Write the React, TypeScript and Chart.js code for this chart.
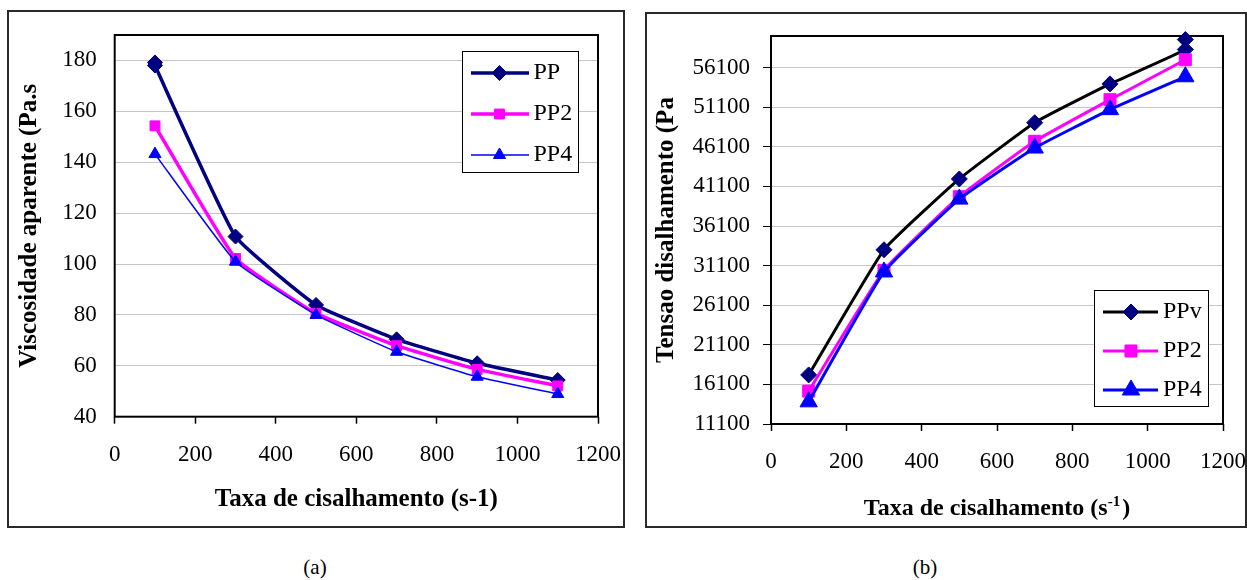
import React, { useEffect, useRef } from "react";
import { Chart, registerables } from "chart.js";

Chart.register(...registerables);

const FONT = "'Liberation Serif', 'Times New Roman', serif";

// ---------- shared axis ticks ----------
const xTickValues = [0, 200, 400, 600, 800, 1000, 1200];

// ---------- chart (a): viscosidade aparente ----------
const yTickValuesA = [40, 60, 80, 100, 120, 140, 160, 180];
const labelsA = ["PP", "PP2", "PP4"];
const shearRatePP = [100, 100, 300, 500, 700, 900, 1100];
const viscosityPP = [179.2, 178, 110.8, 83.9, 70.4, 61, 54.4];
const shearRateA = [100, 300, 500, 700, 900, 1100];
const viscosityPP2 = [154.3, 102.2, 80.6, 67.9, 58.6, 52.1];
const viscosityPP4 = [143.2, 100.9, 80, 65.5, 55.7, 48.9];

// ---------- chart (b): tensao de cisalhamento ----------
const yTickValuesB = [11100, 16100, 21100, 26100, 31100, 36100, 41100, 46100, 51100, 56100];
const labelsB = ["PPv", "PP2", "PP4"];
const shearRatePPv = [100, 300, 500, 700, 900, 1100, 1100];
const stressPPv = [17300, 33100, 42050, 49150, 54050, 58400, 59650];
const shearRateB = [100, 300, 500, 700, 900, 1100];
const stressPP2 = [15250, 30500, 39800, 46800, 52050, 57100];
const stressPP4 = [13900, 30300, 39500, 45950, 50800, 54950];

const toPoints = (xs: number[], ys: number[]) => xs.map((x, i) => ({ x, y: ys[i] }));

function drawMarker(ctx: CanvasRenderingContext2D, style: string, x: number, y: number, r: number, color: string) {
  ctx.save();
  ctx.fillStyle = color;
  ctx.strokeStyle = color;
  ctx.lineWidth = 1;
  ctx.beginPath();
  if (style === "rectRot") {
    ctx.moveTo(x - r, y);
    ctx.lineTo(x, y - r);
    ctx.lineTo(x + r, y);
    ctx.lineTo(x, y + r);
    ctx.closePath();
  } else if (style === "rect") {
    const h = r * Math.SQRT1_2;
    ctx.rect(x - h, y - h, 2 * h, 2 * h);
  } else {
    ctx.moveTo(x, y - r);
    ctx.lineTo(x + Math.sin((2 * Math.PI) / 3) * r, y + 0.5 * r);
    ctx.lineTo(x - Math.sin((2 * Math.PI) / 3) * r, y + 0.5 * r);
    ctx.closePath();
  }
  ctx.fill();
  ctx.stroke();
  ctx.restore();
}

const plotFrame = {
  id: "plotFrame",
  beforeDatasetsDraw(chart: any) {
    const { ctx, chartArea } = chart;
    ctx.save();
    ctx.strokeStyle = "#000";
    ctx.lineWidth = 2;
    ctx.strokeRect(chartArea.left, chartArea.top, chartArea.right - chartArea.left, chartArea.bottom - chartArea.top);
    ctx.restore();
  },
};

const boxLegend = {
  id: "boxLegend",
  afterDatasetsDraw(chart: any, _args: any, opts: any) {
    if (!opts || !opts.box) return;
    const ctx = chart.ctx as CanvasRenderingContext2D;
    const [x1, y1, x2, y2] = opts.box;
    ctx.save();
    ctx.fillStyle = "#fff";
    ctx.fillRect(x1, y1, x2 - x1, y2 - y1);
    ctx.strokeStyle = "#000";
    ctx.lineWidth = 1;
    ctx.strokeRect(x1 + 0.5, y1 + 0.5, x2 - x1 - 1, y2 - y1 - 1);
    chart.data.datasets.forEach((ds: any, i: number) => {
      const y = opts.rows[i];
      ctx.strokeStyle = ds.borderColor;
      ctx.lineWidth = ds.borderWidth;
      ctx.beginPath();
      ctx.moveTo(opts.lineX[0], y);
      ctx.lineTo(opts.lineX[1], y);
      ctx.stroke();
      drawMarker(ctx, ds.pointStyle, opts.markerX, y, ds.pointRadius, ds.pointBackgroundColor);
      ctx.fillStyle = "#000";
      ctx.font = `${opts.fontSize}px ${FONT}`;
      ctx.textBaseline = "middle";
      ctx.textAlign = "left";
      ctx.fillText(ds.label, opts.textX, y);
    });
    ctx.restore();
  },
};

const supTitle = {
  id: "supTitle",
  afterDraw(chart: any, _args: any, opts: any) {
    if (!opts || !opts.main) return;
    const { ctx, chartArea } = chart;
    ctx.save();
    ctx.fillStyle = "#000";
    ctx.textBaseline = "alphabetic";
    ctx.textAlign = "left";
    ctx.font = `bold ${opts.size}px ${FONT}`;
    const w1 = ctx.measureText(opts.main).width;
    const w3 = ctx.measureText(opts.tail).width;
    ctx.font = `bold ${opts.supSize}px ${FONT}`;
    const w2 = ctx.measureText(opts.sup).width + 2;
    const total = w1 + w2 + w3;
    const cx = (chartArea.left + chartArea.right) / 2;
    const y = chartArea.bottom + opts.offset;
    let x = cx - total / 2;
    ctx.font = `bold ${opts.size}px ${FONT}`;
    ctx.fillText(opts.main, x, y);
    x += w1;
    ctx.font = `bold ${opts.supSize}px ${FONT}`;
    ctx.fillText(opts.sup, x, y - opts.raise);
    x += w2;
    ctx.font = `bold ${opts.size}px ${FONT}`;
    ctx.fillText(opts.tail, x, y);
    ctx.restore();
  },
};

function makeDataset(label: string, xs: number[], ys: number[], lineColor: string, markerColor: string, width: number, style: string, radius: number, order: number) {
  return {
    label,
    data: toPoints(xs, ys),
    borderColor: lineColor,
    backgroundColor: markerColor,
    borderWidth: width,
    pointStyle: style,
    pointRadius: radius,
    pointBackgroundColor: markerColor,
    pointBorderColor: markerColor,
    pointBorderWidth: 1,
    tension: 0.12,
    fill: false,
    clip: false,
    order,
  };
}

function makeConfig(p: any) {
  return {
    type: "line",
    data: { datasets: p.datasets },
    plugins: [plotFrame, boxLegend, supTitle],
    options: {
      responsive: false,
      maintainAspectRatio: false,
      animation: false,
      devicePixelRatio: 1,
      events: [],
      layout: { padding: { top: p.padTop, right: p.padRight, left: 0, bottom: 0 } },
      plugins: {
        legend: { display: false },
        tooltip: { enabled: false },
        boxLegend: p.legend,
        supTitle: p.supTitle || {},
      },
      scales: {
        x: {
          type: "linear",
          min: 0,
          max: 1200,
          afterBuildTicks: (s: any) => {
            s.ticks = xTickValues.map((v) => ({ value: v }));
          },
          afterFit: (s: any) => {
            s.height = p.xAxisHeight;
          },
          grid: { drawOnChartArea: false, drawTicks: true, tickLength: 7, tickColor: "#000", tickWidth: 1.5 },
          border: { display: false },
          ticks: {
            font: { family: FONT, size: 23 },
            color: "#000",
            padding: 17,
            autoSkip: false,
            maxRotation: 0,
            callback: (v: any) => String(v),
          },
          title: {
            display: !!p.xTitle,
            text: p.xTitle || "",
            color: "#000",
            font: { family: FONT, size: 25, weight: "bold" },
            padding: { top: 0, bottom: p.xTitlePad },
          },
        },
        y: {
          type: "linear",
          min: p.yMin,
          max: p.yMax,
          afterBuildTicks: (s: any) => {
            s.ticks = p.yTicks.map((v: number) => ({ value: v }));
          },
          afterFit: (s: any) => {
            s.width = p.yAxisWidth;
          },
          grid: {
            color: "#c6c6c6",
            lineWidth: 1,
            drawTicks: p.yTickLen > 0,
            tickLength: p.yTickLen,
            tickColor: "#000",
          },
          border: { display: false },
          ticks: {
            font: { family: FONT, size: 23 },
            color: "#000",
            padding: p.yPad,
            autoSkip: false,
            callback: (v: any) => String(v),
          },
          title: {
            display: true,
            text: p.yTitle,
            color: "#000",
            font: { family: FONT, size: 25, weight: "bold" },
            padding: { top: p.yTitlePad, bottom: 0 },
          },
        },
      },
    },
  };
}

function ChartCanvas({ config, left, width }: { config: any; left: number; width: number }) {
  const ref = useRef<HTMLCanvasElement | null>(null);
  useEffect(() => {
    if (!ref.current) return;
    const chart = new Chart(ref.current, config);
    return () => chart.destroy();
  }, [config]);
  return (
    <canvas
      ref={ref}
      width={width}
      height={540}
      style={{ position: "absolute", left, top: 0, width, height: 540 }}
    />
  );
}

const configA = makeConfig({
  datasets: [
    makeDataset(labelsA[0], shearRatePP, viscosityPP, "#000080", "#000080", 3.5, "rectRot", 7.5, 3),
    makeDataset(labelsA[1], shearRateA, viscosityPP2, "#FF00FF", "#FF00FF", 3.5, "rect", 7, 2),
    makeDataset(labelsA[2], shearRateA, viscosityPP4, "#0000FF", "#0000FF", 1.5, "triangle", 7, 1),
  ],
  padTop: 35,
  padRight: 40,
  xAxisHeight: 123.3,
  yAxisWidth: 114.7,
  yMin: 40,
  yMax: 190,
  yTicks: yTickValuesA,
  yTickLen: 0,
  yPad: 18,
  yTitle: "Viscosidade aparente (Pa.s",
  yTitlePad: 15,
  xTitle: "Taxa de cisalhamento (s-1)",
  xTitlePad: 25.5,
  legend: {
    box: [462, 51, 579, 173],
    rows: [73, 114, 155],
    lineX: [471, 529],
    markerX: 499.5,
    textX: 533.5,
    fontSize: 24,
  },
});

const configB = makeConfig({
  datasets: [
    makeDataset(labelsB[0], shearRatePPv, stressPPv, "#000000", "#000080", 3, "rectRot", 8, 3),
    makeDataset(labelsB[1], shearRateB, stressPP2, "#FF00FF", "#FF00FF", 3, "rect", 8.5, 2),
    makeDataset(labelsB[2], shearRateB, stressPP4, "#0000FF", "#0000FF", 3, "triangle", 10, 1),
  ],
  padTop: 36,
  padRight: 40,
  xAxisHeight: 116,
  yAxisWidth: 141,
  yMin: 11100,
  yMax: 60100,
  yTicks: yTickValuesB,
  yTickLen: 8,
  yPad: 13,
  yTitle: "Tensao disalhamento (Pa",
  yTitlePad: 22,
  xTitle: "",
  xTitlePad: 0,
  legend: {
    box: [464, 290, 579, 407],
    rows: [312, 351, 390],
    lineX: [473, 528],
    markerX: 501,
    textX: 533,
    fontSize: 24,
  },
  supTitle: {
    main: "Taxa de cisalhamento (s",
    sup: "-1",
    tail: ")",
    size: 24,
    supSize: 15,
    raise: 9,
    offset: 91,
  },
});

export default function App() {
  const caption: React.CSSProperties = {
    position: "absolute",
    top: 557,
    width: 100,
    textAlign: "center",
    fontFamily: FONT,
    fontSize: 21,
    lineHeight: "21px",
    color: "#000",
  };
  return (
    <div
      style={{
        position: "absolute",
        left: 0,
        top: 0,
        width: 1247,
        height: 580,
        background: "#fff",
        overflow: "hidden",
      }}
    >
      <div
        style={{
          position: "absolute",
          left: 7,
          top: 10,
          width: 618,
          height: 518,
          border: "2px solid #2a2a2a",
          boxSizing: "border-box",
        }}
      />
      <div
        style={{
          position: "absolute",
          left: 645,
          top: 12,
          width: 602,
          height: 516,
          border: "2px solid #2a2a2a",
          boxSizing: "border-box",
        }}
      />
      <ChartCanvas config={configA} left={0} width={638} />
      <ChartCanvas config={configB} left={630} width={633} />
      <div style={{ ...caption, left: 265 }}>(a)</div>
      <div style={{ ...caption, left: 875 }}>(b)</div>
    </div>
  );
}
